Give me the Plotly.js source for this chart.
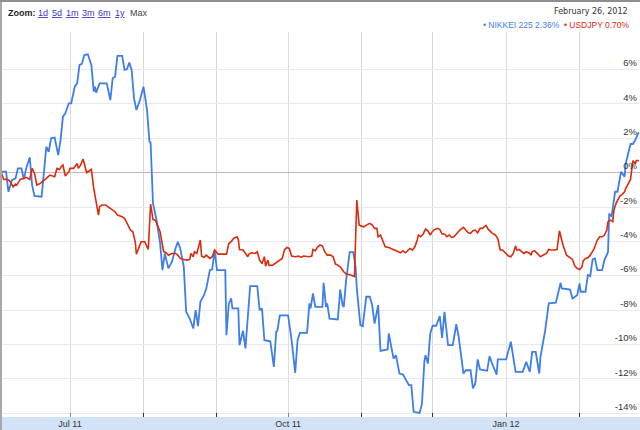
<!DOCTYPE html>
<html>
<head>
<meta charset="utf-8">
<script src="https://cdn.plot.ly/plotly-3.0.1.min.js"></script>
<style>
html,body{margin:0;padding:0;background:#fff;}
#chart{width:640px;height:430px;}
</style>
</head>
<body>
<div id="chart"></div>
<script>
// NIKKEI 225, % change
var nikkeiDates = ['2011-06-02','2011-06-04','2011-06-05','2011-06-06 12:00','2011-06-08','2011-06-09','2011-06-10 12:00','2011-06-11 12:00','2011-06-12 12:00','2011-06-14','2011-06-15','2011-06-16','2011-06-19','2011-06-20','2011-06-21','2011-06-22','2011-06-23','2011-06-24 12:00','2011-06-26','2011-06-27','2011-06-28','2011-06-29','2011-06-30 12:00','2011-07-01 12:00','2011-07-03','2011-07-04','2011-07-05','2011-07-06','2011-07-07','2011-07-08 12:00','2011-07-10','2011-07-11','2011-07-11 12:00','2011-07-12','2011-07-13 12:00','2011-07-16 12:00','2011-07-18','2011-07-19','2011-07-20','2011-07-21','2011-07-23','2011-07-24','2011-07-25','2011-07-26','2011-07-27','2011-07-28','2011-07-29','2011-07-30 12:00','2011-08-01','2011-08-02 12:00','2011-08-03 12:00','2011-08-04','2011-08-04 12:00','2011-08-05','2011-08-06 12:00','2011-08-08','2011-08-09','2011-08-10','2011-08-11 12:00','2011-08-13','2011-08-14 12:00','2011-08-15 12:00','2011-08-16 12:00','2011-08-18','2011-08-19','2011-08-20 12:00','2011-08-22','2011-08-23','2011-08-24','2011-08-25','2011-08-26 12:00','2011-08-27 12:00','2011-08-29','2011-08-30','2011-08-31','2011-09-01','2011-09-04 12:00','2011-09-05','2011-09-06','2011-09-07','2011-09-07 12:00','2011-09-10','2011-09-10 12:00','2011-09-12','2011-09-13','2011-09-14','2011-09-15','2011-09-18','2011-09-19','2011-09-20','2011-09-21','2011-09-23 12:00','2011-09-25','2011-09-26','2011-09-26 12:00','2011-09-27 12:00','2011-10-01','2011-10-02 12:00','2011-10-04','2011-10-05','2011-10-06','2011-10-09','2011-10-10','2011-10-10 12:00','2011-10-11 12:00','2011-10-12 12:00','2011-10-14 12:00','2011-10-15 12:00','2011-10-16','2011-10-17','2011-10-17 12:00','2011-10-18 12:00','2011-10-22','2011-10-23','2011-10-24','2011-10-24 12:00','2011-10-25 12:00','2011-10-27','2011-10-28 12:00','2011-10-29 12:00','2011-10-30','2011-10-31 12:00','2011-11-01 12:00','2011-11-03','2011-11-04 12:00','2011-11-05 12:00','2011-11-06 12:00','2011-11-08','2011-11-09','2011-11-12','2011-11-12 12:00','2011-11-13 12:00','2011-11-14 12:00','2011-11-15 12:00','2011-11-17','2011-11-18 12:00','2011-11-20','2011-11-21','2011-11-22','2011-11-23','2011-11-25 12:00','2011-11-26 12:00','2011-11-27 12:00','2011-11-28','2011-11-29','2011-11-30','2011-12-01','2011-12-02 12:00','2011-12-04','2011-12-05','2011-12-06','2011-12-06 12:00','2011-12-07 12:00','2011-12-09 12:00','2011-12-11','2011-12-12','2011-12-13','2011-12-14','2011-12-15','2011-12-17','2011-12-18','2011-12-19','2011-12-20','2011-12-21','2011-12-24','2011-12-25','2011-12-26','2011-12-27','2011-12-28','2011-12-28 12:00','2012-01-01','2012-01-03','2012-01-04','2012-01-05','2012-01-08','2012-01-09 12:00','2012-01-11','2012-01-12','2012-01-13 12:00','2012-01-15','2012-01-15 12:00','2012-01-17 12:00','2012-01-19','2012-01-22','2012-01-24','2012-01-24 12:00','2012-01-28','2012-01-29','2012-01-31','2012-02-01','2012-02-01 12:00','2012-02-03 12:00','2012-02-04 12:00','2012-02-05 12:00','2012-02-06 12:00','2012-02-07 12:00','2012-02-08 12:00','2012-02-10 12:00','2012-02-11 12:00','2012-02-13','2012-02-13 12:00','2012-02-14 12:00','2012-02-15','2012-02-16','2012-02-17','2012-02-18','2012-02-18 12:00','2012-02-19','2012-02-20','2012-02-20 12:00','2012-02-21 12:00','2012-02-22 12:00','2012-02-23 12:00','2012-02-24 12:00','2012-02-25 12:00','2012-02-26'];
var nikkeiValues = [0.06,0.06,-1.11,-0.43,-0.33,0.25,0.25,-0.39,0.25,0.9,-0.72,-1.35,-1.40,-0.04,1.51,1.22,2.0,2.04,1.03,1.90,3.26,3.46,4.04,4.04,5.01,5.20,6.27,6.33,6.85,6.89,6.27,4.72,5.01,4.66,5.20,5.20,4.23,5.50,5.59,6.80,6.80,5.98,6.02,6.41,5.98,4.33,3.65,4.23,5.01,3.65,1.81,1.75,-0.04,-1.79,-2.76,-4.1,-5.67,-4.70,-5.57,-5.18,-4.41,-4.02,-4.41,-5.48,-8.10,-8.49,-9.07,-8.0,-8.93,-7.51,-7.13,-6.74,-5.67,-5.63,-4.50,-5.67,-5.67,-9.46,-7.61,-7.32,-7.90,-7.90,-10.04,-9.20,-10.23,-8.39,-6.60,-6.60,-8.0,-7.90,-9.75,-9.81,-11.30,-9.26,-9.20,-8.31,-8.31,-9.75,-11.65,-9.75,-9.32,-9.32,-7.61,-7.90,-7.03,-7.81,-7.81,-7.81,-6.41,-7.81,-7.61,-8.49,-8.54,-6.80,-7.71,-7.81,-6.25,-4.62,-4.62,-5.48,-6.74,-8.87,-8.93,-7.22,-7.22,-7.71,-8.78,-7.71,-10.37,-10.29,-9.36,-10.04,-10.82,-10.62,-11.69,-11.75,-12.08,-12.37,-12.37,-13.92,-13.98,-13.44,-11.01,-10.62,-11.11,-9.36,-8.91,-8.91,-8.35,-9.61,-8.10,-8.68,-10.04,-10.04,-8.82,-9.55,-10.62,-11.69,-11.50,-11.50,-12.56,-12.27,-10.87,-11.45,-11.53,-10.68,-11.07,-11.40,-11.75,-10.87,-10.87,-9.84,-10.72,-11.59,-11.59,-11.01,-11.59,-10.43,-10.43,-11.69,-10.72,-9.17,-7.61,-7.57,-6.41,-6.74,-6.80,-7.32,-7.13,-6.45,-6.93,-6.93,-5.96,-6.02,-5.05,-4.99,-5.67,-5.67,-5.09,-4.62,-2.37,-2.56,-2.08,-1.11,-1.11,-0.14,0.06,-0.04,-0.23,0.54,1.13,1.67,1.67,1.90,2.23,2.36];

// USDJPY, % change
var usdjpyDates = ['2011-06-02','2011-06-03','2011-06-04 12:00','2011-06-05 12:00','2011-06-07','2011-06-08','2011-06-08 12:00','2011-06-09','2011-06-10','2011-06-11 12:00','2011-06-12 12:00','2011-06-14','2011-06-15','2011-06-16','2011-06-17','2011-06-18 12:00','2011-06-19 12:00','2011-06-21','2011-06-22 12:00','2011-06-23 12:00','2011-06-24 12:00','2011-06-25 12:00','2011-06-26 12:00','2011-06-27 12:00','2011-06-28','2011-06-29','2011-06-30 12:00','2011-07-01','2011-07-02 12:00','2011-07-03','2011-07-04','2011-07-04 12:00','2011-07-05 12:00','2011-07-06 12:00','2011-07-07 12:00','2011-07-08','2011-07-09','2011-07-10','2011-07-11','2011-07-12','2011-07-13','2011-07-13 12:00','2011-07-14 12:00','2011-07-16','2011-07-17','2011-07-18 12:00','2011-07-20','2011-07-21','2011-07-23','2011-07-24','2011-07-25 12:00','2011-07-26 12:00','2011-07-27 12:00','2011-07-28 12:00','2011-07-29','2011-07-30 12:00','2011-07-31','2011-08-01 12:00','2011-08-03','2011-08-04','2011-08-05','2011-08-06','2011-08-07','2011-08-08','2011-08-09','2011-08-09 12:00','2011-08-10 12:00','2011-08-11 12:00','2011-08-13','2011-08-14 12:00','2011-08-15 12:00','2011-08-16 12:00','2011-08-18','2011-08-19','2011-08-20 12:00','2011-08-21','2011-08-22','2011-08-22 12:00','2011-08-23 12:00','2011-08-25','2011-08-25 12:00','2011-08-26 12:00','2011-08-27 12:00','2011-08-29','2011-08-30','2011-08-31','2011-09-01 12:00','2011-09-05','2011-09-06','2011-09-07','2011-09-08','2011-09-09 12:00','2011-09-10','2011-09-10 12:00','2011-09-12','2011-09-13','2011-09-14','2011-09-14 12:00','2011-09-15 12:00','2011-09-17','2011-09-18','2011-09-19','2011-09-20','2011-09-21','2011-09-21 12:00','2011-09-22 12:00','2011-09-23','2011-09-24 12:00','2011-09-26','2011-09-27 12:00','2011-09-28 12:00','2011-09-29 12:00','2011-09-30 12:00','2011-10-01 12:00','2011-10-02 12:00','2011-10-04','2011-10-05 12:00','2011-10-06 12:00','2011-10-07 12:00','2011-10-10','2011-10-11','2011-10-11 12:00','2011-10-12 12:00','2011-10-13 12:00','2011-10-14 12:00','2011-10-15 12:00','2011-10-16 12:00','2011-10-17 12:00','2011-10-19','2011-10-20','2011-10-21','2011-10-22','2011-10-23','2011-10-24 12:00','2011-10-25 12:00','2011-10-27 12:00','2011-10-28 12:00','2011-10-29','2011-10-30','2011-10-31','2011-11-01','2011-11-02','2011-11-03','2011-11-04 12:00','2011-11-05 12:00','2011-11-06 12:00','2011-11-07 12:00','2011-11-08','2011-11-09','2011-11-10','2011-11-11','2011-11-12 12:00','2011-11-14','2011-11-15 12:00','2011-11-16 12:00','2011-11-17 12:00','2011-11-18 12:00','2011-11-19 12:00','2011-11-20 12:00','2011-11-21 12:00','2011-11-22 12:00','2011-11-23 12:00','2011-11-24 12:00','2011-11-25','2011-11-26','2011-11-27','2011-11-28','2011-11-29','2011-11-30','2011-11-30 12:00','2011-12-01 12:00','2011-12-03','2011-12-04','2011-12-05','2011-12-06','2011-12-07','2011-12-08','2011-12-09','2011-12-10','2011-12-11 12:00','2011-12-12 12:00','2011-12-14','2011-12-15','2011-12-16','2011-12-17','2011-12-18','2011-12-19','2011-12-20','2011-12-21','2011-12-22','2011-12-23 12:00','2011-12-24 12:00','2011-12-26','2011-12-27 12:00','2011-12-28 12:00','2011-12-29 12:00','2011-12-30 12:00','2012-01-01','2012-01-02','2012-01-03','2012-01-04','2012-01-05','2012-01-05 12:00','2012-01-06 12:00','2012-01-07 12:00','2012-01-08 12:00','2012-01-09 12:00','2012-01-11','2012-01-11 12:00','2012-01-12','2012-01-13','2012-01-14 12:00','2012-01-15 12:00','2012-01-16 12:00','2012-01-18','2012-01-19','2012-01-20','2012-01-21 12:00','2012-01-22 12:00','2012-01-23 12:00','2012-01-24 12:00','2012-01-25','2012-01-26 12:00','2012-01-27 12:00','2012-01-28','2012-01-29','2012-01-30','2012-01-31','2012-02-01','2012-02-02','2012-02-02 12:00','2012-02-03 12:00','2012-02-04 12:00','2012-02-05 12:00','2012-02-07','2012-02-07 12:00','2012-02-08 12:00','2012-02-09 12:00','2012-02-10 12:00','2012-02-11 12:00','2012-02-12 12:00','2012-02-13','2012-02-14','2012-02-15','2012-02-15 12:00','2012-02-16 12:00','2012-02-18','2012-02-19','2012-02-20','2012-02-20 12:00','2012-02-21 12:00','2012-02-22 12:00','2012-02-23','2012-02-23 12:00','2012-02-24 12:00','2012-02-25','2012-02-26'];
var usdjpyValues = [0,-0.39,-0.39,-0.47,-0.82,-0.66,-0.72,-0.58,-0.39,-0.33,-0.27,-0.39,0.25,-0.04,-0.72,-0.62,-0.52,-0.33,-0.14,-0.19,-0.23,0.25,0.19,0.39,0.45,-0.19,0.06,0.25,0.25,0.35,0.54,0.25,0.45,0.80,0.25,0,0.10,0.19,-0.91,-1.59,-2.47,-1.98,-1.88,-1.88,-1.98,-2.08,-2.27,-2.47,-2.56,-2.66,-3.05,-3.34,-3.44,-4.02,-4.74,-4.16,-4.02,-4.02,-4.47,-1.83,-2.72,-2.76,-3.05,-3.44,-4.21,-4.60,-4.66,-4.80,-4.70,-4.70,-4.80,-4.99,-5.05,-5.09,-5.05,-4.70,-4.89,-4.60,-4.70,-3.92,-4.85,-4.93,-4.80,-4.99,-4.89,-4.50,-4.74,-4.74,-4.12,-4.02,-3.83,-3.73,-3.88,-4.47,-4.50,-4.70,-4.89,-4.74,-4.66,-4.70,-4.60,-5.09,-5.28,-4.89,-5.44,-5.09,-5.40,-5.38,-5.24,-5.09,-4.99,-4.50,-4.35,-4.41,-4.85,-4.89,-4.85,-4.93,-4.85,-4.89,-4.85,-4.47,-4.54,-4.31,-4.21,-4.27,-4.60,-4.80,-4.80,-4.89,-5.32,-5.38,-5.48,-5.77,-5.90,-5.96,-6.02,-6.05,-1.59,-3.05,-3.11,-3.15,-3.05,-2.95,-3.05,-3.24,-3.24,-3.73,-3.63,-3.92,-4.31,-4.35,-4.43,-4.50,-4.60,-4.66,-4.54,-4.66,-4.54,-4.41,-4.50,-4.31,-3.92,-3.63,-3.73,-3.57,-3.28,-3.38,-3.63,-3.50,-3.34,-3.24,-3.30,-3.57,-3.57,-3.73,-3.63,-3.77,-3.73,-3.50,-3.34,-3.18,-3.34,-3.50,-3.53,-3.38,-3.34,-3.50,-3.24,-3.24,-3.07,-3.30,-3.50,-3.63,-3.83,-4.50,-4.50,-4.74,-4.85,-4.89,-4.70,-4.27,-4.50,-4.47,-4.56,-4.70,-4.60,-4.70,-4.80,-4.60,-4.54,-4.74,-4.89,-4.80,-4.70,-4.47,-4.50,-4.50,-4.47,-3.38,-3.92,-4.21,-4.80,-4.89,-4.93,-5.05,-5.44,-5.57,-5.63,-5.48,-5.13,-4.99,-4.95,-4.80,-4.47,-4.31,-3.92,-3.73,-3.73,-3.63,-3.34,-2.85,-2.76,-2.85,-2.17,-1.75,-1.36,-1.26,-1.11,-0.91,-0.62,-0.39,0.16,0.70,0.54,0.70,0.70];

var xTickVals = ['2011-07-01','2011-10-01','2012-01-01'];
var xTickText = ['Jul 11','Oct 11','Jan 12'];
var yTickVals = [-14,-12,-10,-8,-6,-4,-2,0,2,4,6];
var yTickText = ['-14%','-12%','-10%','-8%','-6%','-4%','-2%','0%','2%','4%','6%'];
var zoomLabels = ['1d','5d','1m','3m','6m','1y'];
var zoomLabelX = [36,50,64,80,96,113];
var headerDate = 'February 26, 2012';
var legendNames = ['NIKKEI 225 2.36%','USDJPY 0.70%'];

var BLUE = '#3e7ee8', RED = '#dc2a0c';
var FONT = 'Liberation Sans, Arial, sans-serif';
var FONT2 = 'DejaVu Sans, Verdana, sans-serif';
var L = 2, R = 0, T = 32, B = 13, W = 640, H = 430;
var pw = W - L - R, ph = H - T - B;
function px(x){ return (x - L) / pw; }
function py(y){ return (H - B - y) / ph; }

var traces = [
  {x: nikkeiDates, y: nikkeiValues, type: 'scatter', mode: 'lines', name: 'NIKKEI 225',
   line: {color: BLUE, width: 1.8}, hoverinfo: 'skip'},
  {x: usdjpyDates, y: usdjpyValues, type: 'scatter', mode: 'lines', name: 'USDJPY',
   line: {color: RED, width: 1.6}, hoverinfo: 'skip'}
];

var annotations = [
  {xref:'paper', yref:'paper', x: px(6), y: py(13), xanchor:'left', yanchor:'middle', showarrow:false,
   text:'<b>Zoom:</b>', font:{family:FONT, size:9, color:'#222'}},
  {xref:'paper', yref:'paper', x: px(128), y: py(13), xanchor:'left', yanchor:'middle', showarrow:false,
   text:'Max', font:{family:FONT, size:9, color:'#444'}},
  {xref:'paper', yref:'paper', x: px(630), y: py(11), xanchor:'right', yanchor:'middle', showarrow:false,
   text: headerDate, font:{family:FONT2, size:8, color:'#333'}},
  {xref:'paper', yref:'paper', x: px(632), y: py(25), xanchor:'right', yanchor:'middle', showarrow:false,
   text:'<span style="color:'+BLUE+'">\u2022 '+legendNames[0]+'</span>  <span style="color:'+RED+'">\u2022 '+legendNames[1]+'</span>',
   font:{family:FONT, size:8.5, color:BLUE}}
];
zoomLabels.forEach(function(t, i){
  annotations.push({xref:'paper', yref:'paper', x: px(zoomLabelX[i]), y: py(13), xanchor:'left', yanchor:'middle',
    showarrow:false, text:'<u>'+t+'</u>', font:{family:FONT, size:9, color:'#3a3acc'}});
});

var shapes = [
  {type:'rect', xref:'paper', yref:'paper', x0: px(0), x1: 1, y0: py(430), y1: 0,
   fillcolor:'#d3e3f7', line:{width:0}, layer:'below'},
  {type:'rect', xref:'paper', yref:'paper', x0: px(0), x1: px(2), y0: py(430), y1: py(0),
   fillcolor:'#a8a8a8', line:{width:0}, layer:'above'},
  {type:'rect', xref:'paper', yref:'paper', x0: px(0), x1: 1, y0: py(2), y1: py(0),
   fillcolor:'#8e8e8e', line:{width:0}, layer:'above'}
];

var layout = {
  width: W, height: H,
  margin: {l: L, r: R, t: T, b: B, pad: 0},
  paper_bgcolor: '#ffffff', plot_bgcolor: '#ffffff',
  showlegend: false,
  xaxis: {
    type: 'date',
    range: ['2011-06-02 07:00', '2012-02-26 12:00'],
    tickvals: xTickVals, ticktext: xTickText,
    ticks: 'inside', ticklen: 4, tickcolor: '#888',
    showgrid: true, gridcolor: '#dcdcdc', gridwidth: 1,
    minor: {dtick: 'M1', tick0: '2011-07-01', showgrid: true, gridcolor: '#d6d6d6', ticks: 'inside', ticklen: 4, tickcolor: '#333'},
    zeroline: false, showline: false,
    tickfont: {family: FONT, size: 9, color: '#333'},
    fixedrange: true
  },
  yaxis: {
    side: 'right',
    range: [(H - B - 172.7) / -17.18, (172.7 - T) / 17.18],
    tickvals: yTickVals, ticktext: yTickText,
    ticklabelposition: 'inside top',
    ticks: '',
    showgrid: true, gridcolor: '#e8e8f0', gridwidth: 1,
    zeroline: true, zerolinecolor: '#d4b0ac', zerolinewidth: 1,
    showline: false,
    tickfont: {family: FONT, size: 9.5, color: '#333'},
    fixedrange: true
  },
  annotations: annotations,
  shapes: shapes
};

Plotly.newPlot('chart', traces, layout, {displayModeBar: false, staticPlot: true});
</script>
</body>
</html>
